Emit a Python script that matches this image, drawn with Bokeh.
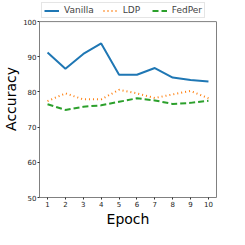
from bokeh.plotting import figure
from bokeh.models import Legend, LegendItem, FixedTicker, Range1d, LinearAxis, Span
from bokeh.embed import file_html
from bokeh.resources import INLINE

epochs = [1, 2, 3, 4, 5, 6, 7, 8, 9, 10]
vanilla = [91.2, 86.6, 90.8, 93.8, 84.9, 84.9, 86.8, 84.1, 83.4, 83.0]
ldp = [77.4, 79.6, 77.9, 77.9, 80.6, 79.6, 78.3, 79.3, 80.3, 78.2]
fedper = [76.5, 74.9, 75.8, 76.2, 77.2, 78.2, 77.6, 76.6, 76.9, 77.5]
y_ticks = [50, 60, 70, 80, 90, 100]
y_min, y_max = 50, 100

EST_FH = 196   # expected frame height
TOP_PAD = 21   # pixels above the data area reserved for the legend
y_top = y_max + (y_max - y_min) * TOP_PAD / (EST_FH - TOP_PAD)

p = figure(width=229, height=229, output_backend="svg", toolbar_location=None,
           x_range=Range1d(0.55, 10.45), y_range=Range1d(y_min, y_top),
           min_border_left=0, min_border_right=13, min_border_top=0, min_border_bottom=0)
p.grid.visible = False
p.outline_line_color = None

r1 = p.line(epochs, vanilla, line_color="#1f77b4", line_width=2)
r2 = p.line(epochs, ldp, line_color="#ff7f0e", line_width=2, line_dash="1 3")
r3 = p.line(epochs, fedper, line_color="#2ca02c", line_width=2, line_dash="6 3")

right_axis = LinearAxis(bounds=(y_min, y_max), ticker=FixedTicker(ticks=[]),
                        major_tick_line_color=None, minor_tick_line_color=None,
                        major_label_standoff=0, axis_line_color="#808080")
p.add_layout(right_axis, "right")
p.add_layout(Span(location=y_max, dimension="width", line_color="#808080", line_width=1))

for ax in (p.xaxis[0], p.yaxis[0]):
    ax.axis_line_color = "#808080"
    ax.major_tick_line_color = "#333333"
    ax.major_tick_out = 2
    ax.major_tick_in = 0
    ax.minor_tick_line_color = None
    ax.major_label_text_font_size = "7px"
    ax.major_label_text_font = "DejaVu Sans"
    ax.major_label_text_color = "#222222"
    ax.axis_label_text_font = "DejaVu Sans"
    ax.axis_label_text_font_style = "normal"
    ax.axis_label_text_font_size = "14px"
    ax.axis_label_text_color = "#000000"
    ax.major_label_standoff = 1
    ax.axis_label_standoff = 1

p.xaxis[0].ticker = FixedTicker(ticks=epochs)
p.yaxis[0].ticker = FixedTicker(ticks=y_ticks)
p.yaxis[0].bounds = (y_min, y_max)
p.xaxis[0].axis_label = "Epoch"
p.yaxis[0].axis_label = "Accuracy"

legend = Legend(items=[LegendItem(label="Vanilla", renderers=[r1]),
                       LegendItem(label="LDP", renderers=[r2]),
                       LegendItem(label="FedPer", renderers=[r3])],
                orientation="horizontal", location="top_left",
                label_text_font="DejaVu Sans", label_text_font_size="9px",
                glyph_width=15, glyph_height=9, label_height=9,
                spacing=9, padding=2, margin=2,
                border_line_color="#cccccc", label_standoff=5)
p.add_layout(legend, "center")

open("out.html", "w").write(file_html(p, INLINE))
